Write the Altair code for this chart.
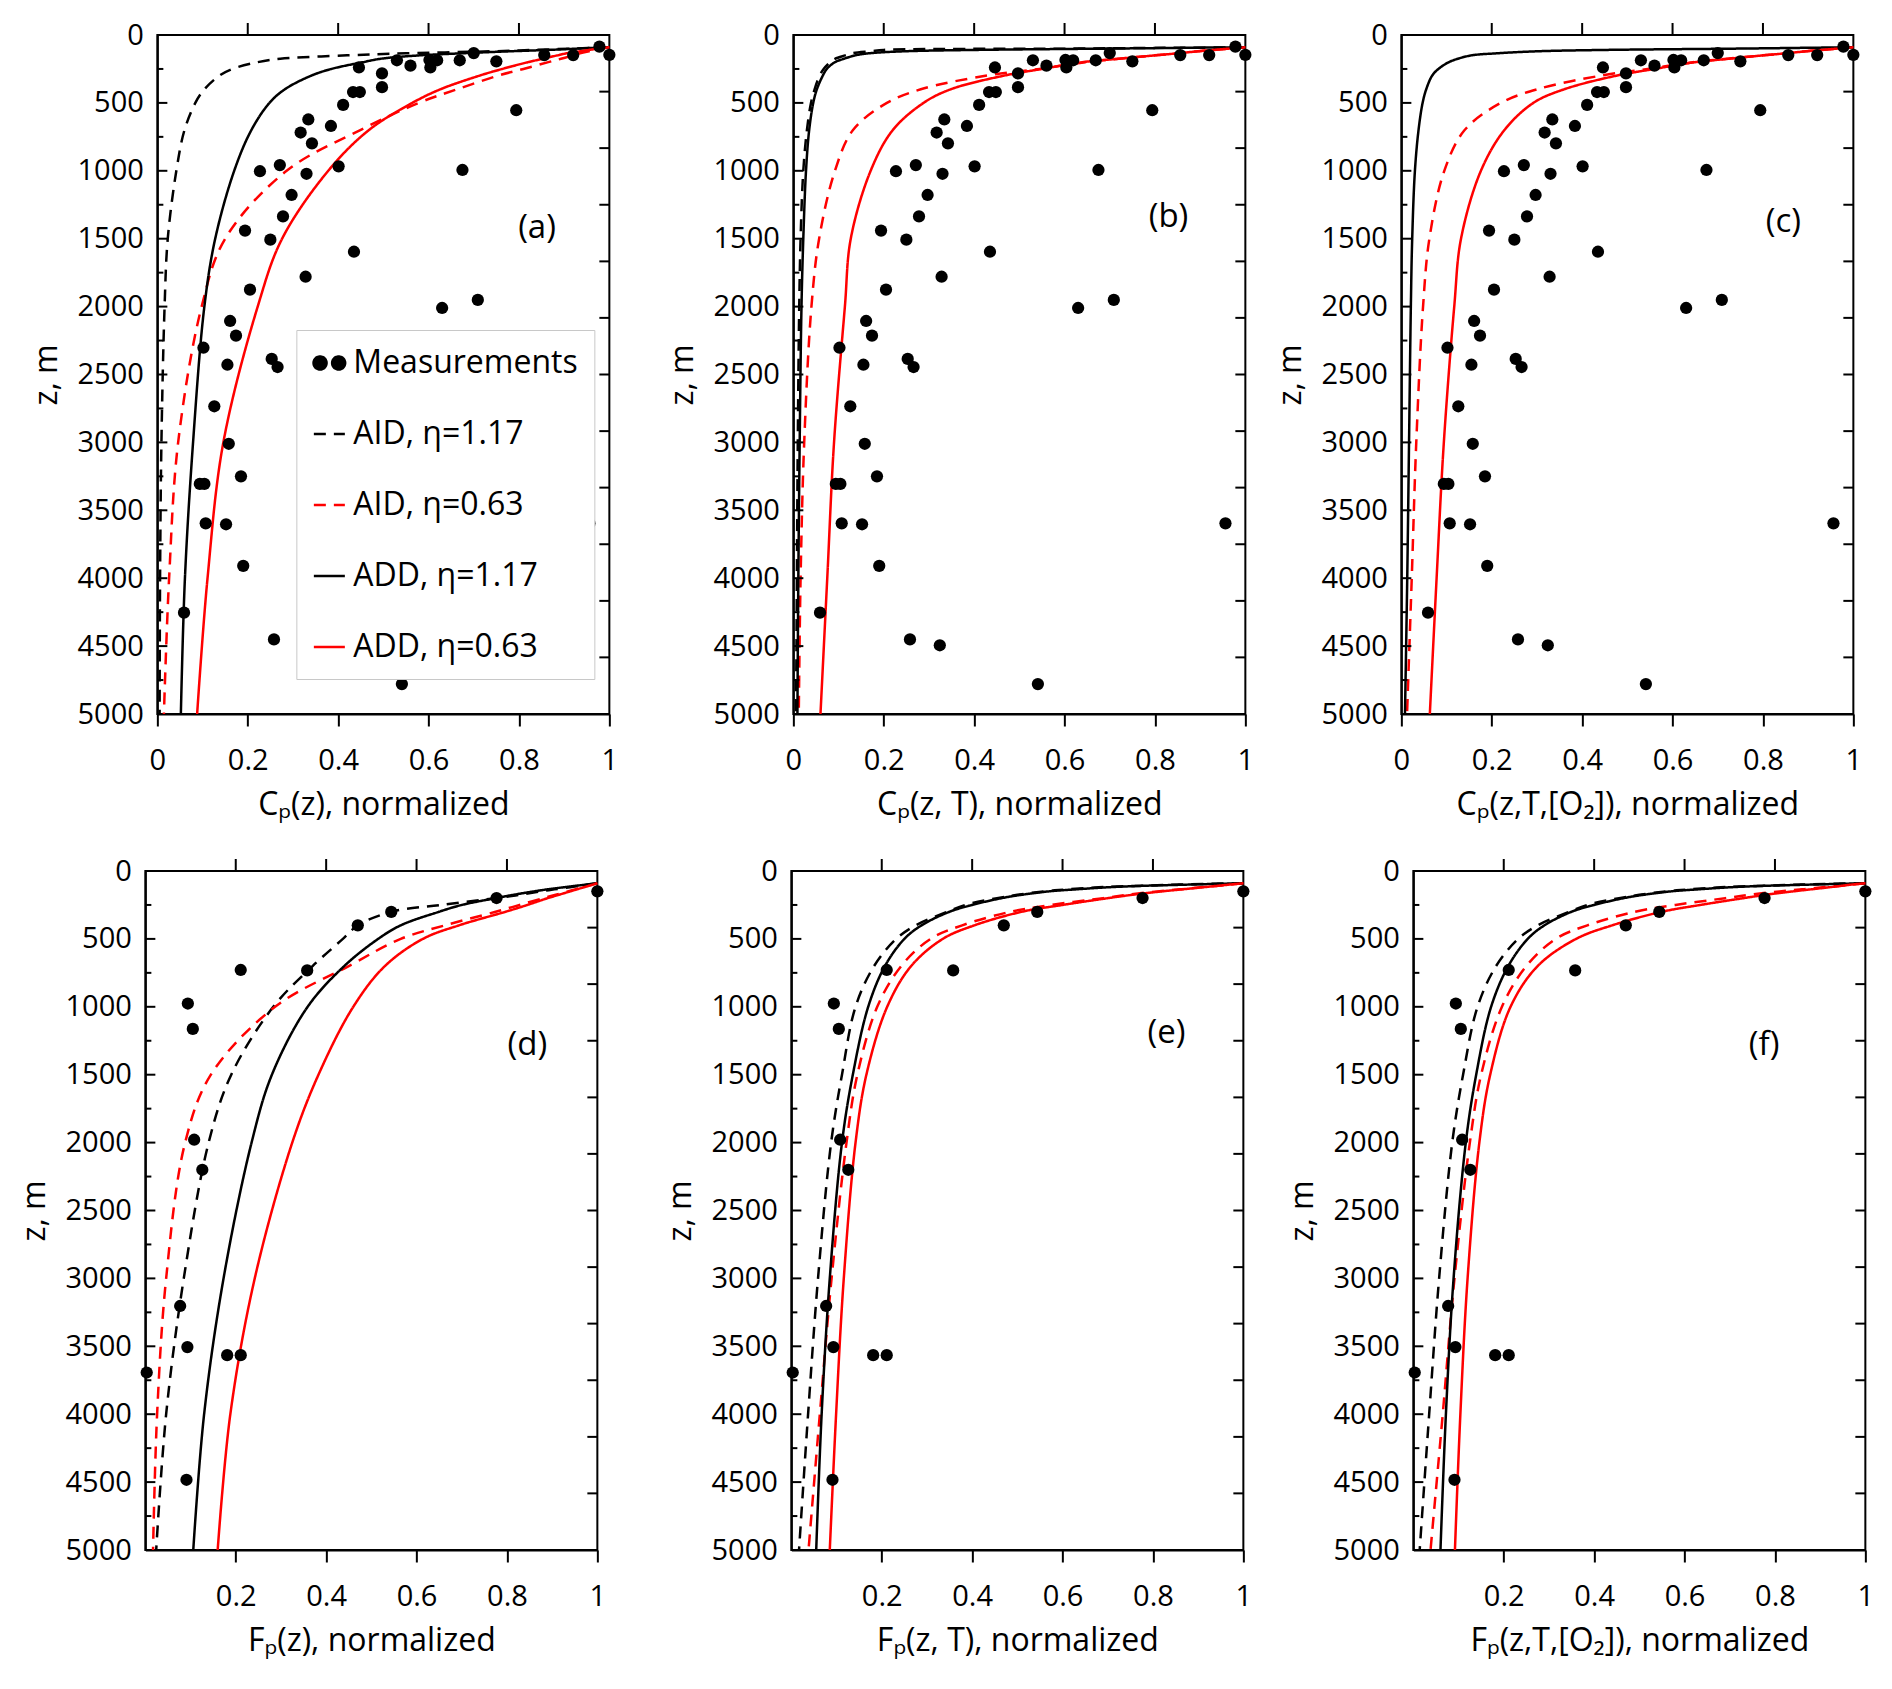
import altair as alt
import pandas as pd

FONT = "Open Sans"

# depth grid (m) shared by every model curve
Z = [90, 100, 110, 120, 135, 150, 175, 200, 250, 300, 400, 500, 700, 1000, 1500, 2000, 3000, 4000, 5000]

SERIES = ["Measurements", "AID, η=1.17", "AID, η=0.63", "ADD, η=1.17", "ADD, η=0.63"]
SERIES_COLORS = ["black", "black", "red", "black", "red"]
SERIES_DASH = [[1, 0], [12, 8], [12, 8], [1, 0], [1, 0]]

# (a) Cp(z)
A_AID_H = [1.0, 0.92, 0.83, 0.74, 0.55, 0.42, 0.272, 0.222, 0.166, 0.137, 0.104, 0.084, 0.060, 0.042, 0.023, 0.016, 0.009, 0.006, 0.005]
A_AID_L = [1.0, 0.985, 0.97, 0.955, 0.935, 0.92, 0.893, 0.865, 0.81, 0.753, 0.663, 0.578, 0.449, 0.286, 0.15, 0.098, 0.046, 0.026, 0.0145]
A_ADD_H = [1.0, 0.93, 0.865, 0.78, 0.673, 0.58, 0.494, 0.455, 0.385, 0.34, 0.282, 0.248, 0.208, 0.17, 0.128, 0.104, 0.079, 0.061, 0.052]
A_ADD_L = [1.0, 0.975, 0.955, 0.935, 0.905, 0.885, 0.853, 0.82, 0.763, 0.712, 0.626, 0.564, 0.468, 0.378, 0.276, 0.222, 0.146, 0.111, 0.088]

# (b) Cp(z, T)
B_AID_H = [1.0, 0.62, 0.2, 0.172, 0.13, 0.115, 0.092, 0.081, 0.067, 0.058, 0.047, 0.039, 0.03, 0.022, 0.016, 0.013, 0.0098, 0.0078, 0.006]
B_AID_L = [1.0, 0.965, 0.93, 0.895, 0.85, 0.80, 0.72, 0.645, 0.545, 0.425, 0.282, 0.207, 0.132, 0.092, 0.057, 0.040, 0.024, 0.016, 0.012]
B_ADD_H = [1.0, 0.7, 0.40, 0.245, 0.166, 0.137, 0.112, 0.092, 0.074, 0.065, 0.052, 0.044, 0.035, 0.028, 0.022, 0.018, 0.014, 0.011, 0.009]
B_ADD_L = [1.0, 0.965, 0.93, 0.895, 0.85, 0.80, 0.72, 0.64, 0.55, 0.465, 0.348, 0.288, 0.22, 0.171, 0.127, 0.114, 0.09, 0.075, 0.06]

# (c) Cp(z, T, [O2])
C_AID_L = [1.0, 0.965, 0.93, 0.895, 0.85, 0.80, 0.72, 0.645, 0.545, 0.44, 0.30, 0.22, 0.14, 0.095, 0.062, 0.048, 0.033, 0.023, 0.0126]
C_ADD_H = [1.0, 0.75, 0.45, 0.3, 0.21, 0.155, 0.125, 0.105, 0.082, 0.068, 0.055, 0.047, 0.038, 0.03, 0.024, 0.021, 0.017, 0.013, 0.008]
C_ADD_L = [1.0, 0.965, 0.93, 0.895, 0.85, 0.80, 0.725, 0.65, 0.56, 0.475, 0.36, 0.292, 0.228, 0.176, 0.132, 0.117, 0.094, 0.078, 0.063]

# (d) Fp(z)
D_AID_H = [1.0, 0.98, 0.96, 0.94, 0.905, 0.875, 0.83, 0.775, 0.655, 0.545, 0.47, 0.437, 0.37, 0.283, 0.19, 0.14, 0.085, 0.046, 0.024]
D_AID_L = [1.0, 0.989, 0.978, 0.967, 0.951, 0.935, 0.908, 0.88, 0.828, 0.775, 0.663, 0.565, 0.45, 0.287, 0.145, 0.088, 0.046, 0.026, 0.017]
D_ADD_H = [1.0, 0.975, 0.95, 0.925, 0.89, 0.86, 0.815, 0.775, 0.70, 0.65, 0.565, 0.515, 0.44, 0.359, 0.28, 0.235, 0.173, 0.13, 0.106]
D_ADD_L = [1.0, 0.99, 0.98, 0.97, 0.955, 0.94, 0.915, 0.89, 0.845, 0.797, 0.694, 0.614, 0.53, 0.46, 0.383, 0.325, 0.242, 0.188, 0.16]

# (e) Fp(z, T)
E_AID_H = [1.0, 0.86, 0.76, 0.68, 0.61, 0.56, 0.50, 0.455, 0.385, 0.345, 0.275, 0.232, 0.183, 0.142, 0.112, 0.088, 0.059, 0.037, 0.017]
E_AID_L = [1.0, 0.97, 0.94, 0.905, 0.86, 0.81, 0.745, 0.69, 0.575, 0.485, 0.378, 0.308, 0.243, 0.19, 0.146, 0.122, 0.089, 0.063, 0.038]
E_ADD_H = [1.0, 0.88, 0.77, 0.70, 0.63, 0.57, 0.51, 0.465, 0.40, 0.35, 0.288, 0.25, 0.207, 0.17, 0.136, 0.112, 0.085, 0.067, 0.055]
E_ADD_L = [1.0, 0.97, 0.94, 0.91, 0.865, 0.82, 0.755, 0.70, 0.60, 0.51, 0.405, 0.335, 0.265, 0.212, 0.166, 0.142, 0.116, 0.099, 0.085]

# (f) Fp(z, T, [O2])
F_AID_H = [1.0, 0.86, 0.76, 0.68, 0.61, 0.56, 0.50, 0.455, 0.385, 0.345, 0.275, 0.232, 0.183, 0.142, 0.11, 0.086, 0.057, 0.035, 0.014]
F_AID_L = [1.0, 0.97, 0.94, 0.905, 0.86, 0.81, 0.745, 0.69, 0.58, 0.49, 0.385, 0.315, 0.25, 0.196, 0.15, 0.125, 0.091, 0.065, 0.038]
F_ADD_H = [1.0, 0.88, 0.77, 0.70, 0.63, 0.57, 0.51, 0.465, 0.40, 0.35, 0.29, 0.253, 0.21, 0.172, 0.139, 0.116, 0.089, 0.072, 0.06]
F_ADD_L = [1.0, 0.97, 0.945, 0.92, 0.88, 0.84, 0.78, 0.73, 0.635, 0.55, 0.44, 0.36, 0.275, 0.215, 0.17, 0.146, 0.12, 0.104, 0.092]

# measurements, concentration panels (a)-(c)
CP_X = [0.978, 1.0, 0.856, 0.920, 0.700, 0.669, 0.750, 0.602, 0.619, 0.604, 0.560, 0.530, 0.446, 0.497,
        0.497, 0.433, 0.448, 0.411, 0.794, 0.334, 0.317, 0.384, 0.342, 0.271, 0.227, 0.330, 0.401, 0.675,
        0.297, 0.278, 0.194, 0.250, 0.435, 0.328, 0.205, 0.709, 0.630, 0.161, 0.174, 0.102, 0.253, 0.266,
        0.155, 0.126, 0.158, 0.185, 0.094, 0.104, 0.107, 0.152, 0.956, 0.190, 0.059, 0.258, 0.324, 0.541]
CP_Z = [86, 146, 148, 148, 133, 186, 194, 184, 186, 239, 226, 186, 239, 283,
        384, 420, 420, 515, 554, 622, 718, 670, 798, 958, 1003, 1022, 967, 994,
        1178, 1336, 1440, 1507, 1596, 1780, 1875, 1951, 2010, 2106, 2214, 2303, 2385, 2445,
        2428, 2734, 3010, 3250, 3306, 3306, 3596, 3603, 3596, 3909, 4254, 4451, 4494, 4780]

# measurements, flux panels (d)-(f)
FP_X = [1.0, 0.777, 0.544, 0.470, 0.358, 0.211, 0.094, 0.105, 0.108, 0.126, 0.077, 0.093, 0.181, 0.211, 0.003, 0.091]
FP_Z = [150, 199, 301, 400, 732, 729, 976, 1163, 1979, 2200, 3203, 3506, 3565, 3565, 3693, 4483]

Y_MAJOR = [0, 500, 1000, 1500, 2000, 2500, 3000, 3500, 4000, 4500, 5000]
Y_MINOR = [250, 750, 1250, 1750, 2250, 2750, 3250, 3750, 4250, 4750]
RIGHT_TICKS = [417, 833, 1250, 1667, 2083, 2500, 2917, 3333, 3750, 4167, 4583]
TOP_TICKS = [0.2, 0.4, 0.6, 0.8]
X_LABELS_TOP = [0, 0.2, 0.4, 0.6, 0.8, 1]
X_LABELS_BOTTOM = [0.2, 0.4, 0.6, 0.8, 1]

W, H = 452, 679

TWO_DOTS = ("M-1.02,0A0.42,0.42,0,1,0,-0.18,0A0.42,0.42,0,1,0,-1.02,0Z"
            "M0.18,0A0.42,0.42,0,1,0,1.02,0A0.42,0.42,0,1,0,0.18,0Z")
SERIES_SHAPES = [TWO_DOTS, "stroke", "stroke", "stroke", "stroke"]


def panel(tag, xtitle, curves, px, pz, label_at, xlabels, legend=False):
    rows = []
    for name, xs in curves.items():
        for z, x in zip(Z, xs):
            rows.append({"series": name, "z": z, "x": x})
    xs_ = alt.Scale(domain=[0, 1], nice=False, zero=False)
    ys_ = alt.Scale(domain=[0, 5000], reverse=True, nice=False, zero=False)
    cscale = alt.Scale(domain=SERIES, range=SERIES_COLORS)
    dscale = alt.Scale(domain=SERIES, range=SERIES_DASH)

    if legend:
        leg = alt.Legend(
            orient="none", legendX=139, legendY=295, title=None,
            labelFont=FONT, labelFontSize=32, labelColor="black", labelOffset=7, labelLimit=400,
            symbolSize=961, symbolStrokeWidth=2.5, symbolOpacity=1, symbolFillColor="black",
            rowPadding=38, padding=16,
            fillColor="white", strokeColor="#c8c8c8", zindex=1,
        )
    else:
        leg = None

    lines = alt.Chart(pd.DataFrame(rows)).mark_line(
        interpolate="catmull-rom", strokeWidth=2.5
    ).encode(
        x=alt.X("x:Q", scale=xs_, axis=alt.Axis(
            values=xlabels, format="~g", title=xtitle, tickSize=12,
            labelPadding=20, titlePadding=14)),
        y=alt.Y("z:Q", scale=ys_, axis=alt.Axis(
            values=Y_MAJOR, format="d", title="z, m", ticks=False,
            labelPadding=14, minExtent=78, maxExtent=78, titlePadding=16)),
        order="z:Q",
        color=alt.Color("series:N", scale=cscale, legend=leg),
        strokeDash=alt.StrokeDash("series:N", scale=dscale, legend=leg),
    )

    pts = alt.Chart(pd.DataFrame({"x": px, "z": pz})).mark_circle(
        size=150, color="black", opacity=1
    ).encode(x=alt.X("x:Q", scale=xs_), y=alt.Y("z:Q", scale=ys_))

    major = alt.Chart(pd.DataFrame({"z": Y_MAJOR[1:-1]})).mark_rule(
        color="black", strokeWidth=2
    ).encode(y=alt.Y("z:Q", scale=ys_), x=alt.value(0), x2=alt.value(10))
    minor = alt.Chart(pd.DataFrame({"z": Y_MINOR})).mark_rule(
        color="black", strokeWidth=2
    ).encode(y=alt.Y("z:Q", scale=ys_), x=alt.value(0), x2=alt.value(6))
    right = alt.Chart(pd.DataFrame({"z": RIGHT_TICKS})).mark_rule(
        color="black", strokeWidth=2
    ).encode(y=alt.Y("z:Q", scale=ys_), x=alt.value(W), x2=alt.value(W - 10))
    top = alt.Chart(pd.DataFrame({"x": TOP_TICKS})).mark_rule(
        color="black", strokeWidth=2
    ).encode(x=alt.X("x:Q", scale=xs_), y=alt.value(0), y2=alt.value(-12))

    lab = alt.Chart(pd.DataFrame({"x": [label_at[0]], "z": [label_at[1]], "t": [f"({tag})"]})).mark_text(
        font=FONT, fontSize=33, color="black", align="center", baseline="middle"
    ).encode(x=alt.X("x:Q", scale=xs_), y=alt.Y("z:Q", scale=ys_), text="t:N")

    layers = [lines, pts, major, minor, right, top, lab]

    if legend:
        # empty layer that only carries the legend scales (shape gives the two-dot key)
        key = alt.Chart(pd.DataFrame({"series": SERIES, "x": [0.5] * 5, "z": [0] * 5})).transform_filter(
            "false"
        ).mark_point(filled=False, fill="black").encode(
            x=alt.X("x:Q", scale=xs_),
            y=alt.Y("z:Q", scale=ys_),
            color=alt.Color("series:N", scale=cscale, legend=leg),
            strokeDash=alt.StrokeDash("series:N", scale=dscale, legend=leg),
            shape=alt.Shape("series:N", scale=alt.Scale(domain=SERIES, range=SERIES_SHAPES), legend=leg),
        )
        layers.insert(0, key)

    return alt.layer(*layers).properties(width=W, height=H)


pa = panel("a", "Cₚ(z), normalized",
           {"AID, η=1.17": A_AID_H, "AID, η=0.63": A_AID_L, "ADD, η=1.17": A_ADD_H, "ADD, η=0.63": A_ADD_L},
           CP_X, CP_Z, (0.84, 1420), X_LABELS_TOP, legend=True)
pb = panel("b", "Cₚ(z, T), normalized",
           {"AID, η=1.17": B_AID_H, "AID, η=0.63": B_AID_L, "ADD, η=1.17": B_ADD_H, "ADD, η=0.63": B_ADD_L},
           CP_X, CP_Z, (0.83, 1340), X_LABELS_TOP)
pc = panel("c", "Cₚ(z,T,[O₂]), normalized",
           {"AID, η=0.63": C_AID_L, "ADD, η=1.17": C_ADD_H, "ADD, η=0.63": C_ADD_L},
           CP_X, CP_Z, (0.845, 1380), X_LABELS_TOP)
pd_ = panel("d", "Fₚ(z), normalized",
            {"AID, η=1.17": D_AID_H, "AID, η=0.63": D_AID_L, "ADD, η=1.17": D_ADD_H, "ADD, η=0.63": D_ADD_L},
            FP_X, FP_Z, (0.845, 1280), X_LABELS_BOTTOM)
pe = panel("e", "Fₚ(z, T), normalized",
           {"AID, η=1.17": E_AID_H, "AID, η=0.63": E_AID_L, "ADD, η=1.17": E_ADD_H, "ADD, η=0.63": E_ADD_L},
           FP_X, FP_Z, (0.83, 1195), X_LABELS_BOTTOM)
pf = panel("f", "Fₚ(z,T,[O₂]), normalized",
           {"AID, η=1.17": F_AID_H, "AID, η=0.63": F_AID_L, "ADD, η=1.17": F_ADD_H, "ADD, η=0.63": F_ADD_L},
           FP_X, FP_Z, (0.776, 1280), X_LABELS_BOTTOM)

indep = dict(color="independent", strokeDash="independent", shape="independent")

top_row = alt.hconcat(
    pa, alt.hconcat(pb, pc, spacing=18).resolve_scale(**indep), spacing=46
).resolve_scale(**indep)
bottom_row = alt.hconcat(
    pd_, alt.hconcat(pe, pf, spacing=32).resolve_scale(**indep), spacing=56
).resolve_scale(**indep)

chart = alt.vconcat(top_row, bottom_row, spacing=35, center=True).resolve_scale(**indep).properties(
    padding={"left": 9, "top": 12, "right": 5, "bottom": 5}
).configure(font=FONT).configure_view(
    stroke="black", strokeWidth=2
).configure_axis(
    labelFont=FONT, labelFontSize=29, labelColor="black",
    titleFont=FONT, titleFontSize=32, titleFontWeight="normal", titleColor="black",
    domainColor="black", domainWidth=2, tickColor="black", tickWidth=2,
    grid=False, labelFlush=False, labelOverlap=False,
)

chart.save("out.html", embed_options={"renderer": "svg", "actions": False})
